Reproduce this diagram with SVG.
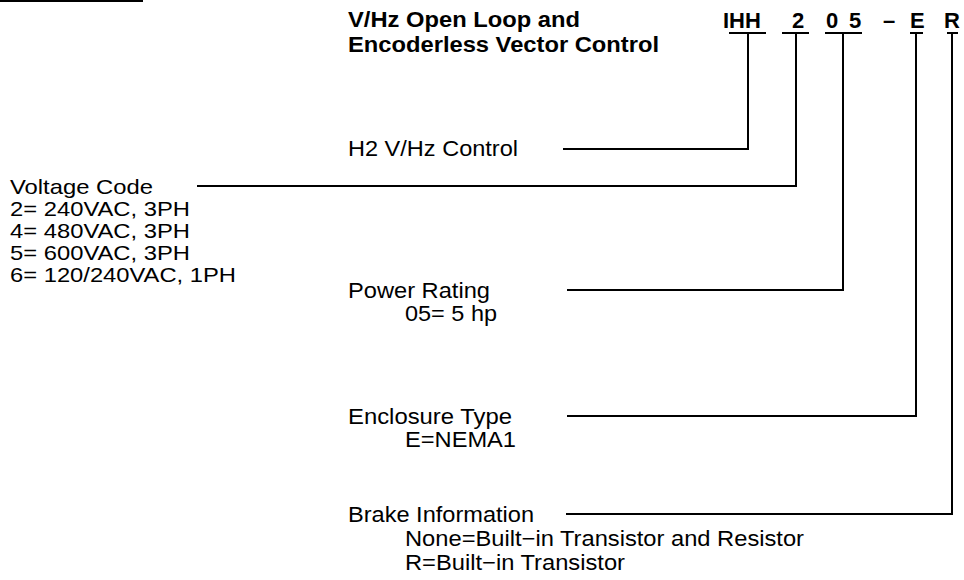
<svg xmlns="http://www.w3.org/2000/svg" width="964" height="580" viewBox="0 0 964 580">
<style>
.t{font-family:"Liberation Sans",Arial,Helvetica,sans-serif;font-size:22px;fill:#000}
.v{font-family:"Liberation Sans",Arial,Helvetica,sans-serif;font-size:21px;fill:#000}
.b{font-family:"Liberation Sans",Arial,Helvetica,sans-serif;font-size:22px;font-weight:bold;fill:#000}
.c{font-family:"Liberation Sans",Arial,Helvetica,sans-serif;font-size:22px;font-weight:bold;fill:#000}
.l{stroke:#000;stroke-width:2;fill:none}
</style>
<rect width="964" height="580" fill="#fff"/>
<line class="l" x1="0" y1="1" x2="143" y2="1"/>
<g id="title">
<text class="b" x="348" y="27" textLength="232" lengthAdjust="spacingAndGlyphs">V/Hz Open Loop and</text>
<text class="b" x="348" y="52" textLength="311" lengthAdjust="spacingAndGlyphs">Encoderless Vector Control</text>
</g>
<g id="code">
<text class="c" x="723" y="28">IHH</text>
<text class="c" x="792" y="28">2</text>
<text class="c" x="826" y="28">0</text>
<text class="c" x="849" y="28">5</text>
<text class="c" x="883" y="28">–</text>
<text class="c" x="910" y="28">E</text>
<text class="c" x="944" y="28">R</text>
<line class="l" x1="729" y1="33" x2="766" y2="33"/>
<line class="l" x1="782" y1="33" x2="809" y2="33"/>
<line class="l" x1="825" y1="33" x2="862" y2="33"/>
<line class="l" x1="910" y1="33" x2="923" y2="33"/>
<line class="l" x1="947" y1="33" x2="958" y2="33"/>
</g>
<g id="h2">
<text class="t" x="348" y="156" textLength="170" lengthAdjust="spacingAndGlyphs">H2 V/Hz Control</text>
</g>
<g id="voltage">
<text class="v" x="10" y="194" textLength="143" lengthAdjust="spacingAndGlyphs">Voltage Code</text>
<text class="v" x="10" y="216" textLength="180" lengthAdjust="spacingAndGlyphs">2= 240VAC, 3PH</text>
<text class="v" x="10" y="238" textLength="180" lengthAdjust="spacingAndGlyphs">4= 480VAC, 3PH</text>
<text class="v" x="10" y="260" textLength="180" lengthAdjust="spacingAndGlyphs">5= 600VAC, 3PH</text>
<text class="v" x="10" y="282" textLength="226" lengthAdjust="spacingAndGlyphs">6= 120/240VAC, 1PH</text>
</g>
<g id="power">
<text class="t" x="348" y="298" textLength="142" lengthAdjust="spacingAndGlyphs">Power Rating</text>
<text class="t" x="405" y="321" textLength="92" lengthAdjust="spacingAndGlyphs">05= 5 hp</text>
</g>
<g id="enclosure">
<text class="t" x="348" y="424" textLength="164" lengthAdjust="spacingAndGlyphs">Enclosure Type</text>
<text class="t" x="405" y="447" textLength="111" lengthAdjust="spacingAndGlyphs">E=NEMA1</text>
</g>
<g id="brake">
<text class="t" x="348" y="522" textLength="186" lengthAdjust="spacingAndGlyphs">Brake Information</text>
<text class="t" x="405" y="546" textLength="399" lengthAdjust="spacingAndGlyphs">None=Built−in Transistor and Resistor</text>
<text class="t" x="405" y="570" textLength="220" lengthAdjust="spacingAndGlyphs">R=Built−in Transistor</text>
</g>
<g id="connectors">
<polyline class="l" points="563,149 748,149 748,34"/>
<polyline class="l" points="197,186 796,186 796,34"/>
<polyline class="l" points="567,290 843,290 843,34"/>
<polyline class="l" points="567,416 916,416 916,34"/>
<polyline class="l" points="566,514 952,514 952,34"/>
</g>
</svg>
